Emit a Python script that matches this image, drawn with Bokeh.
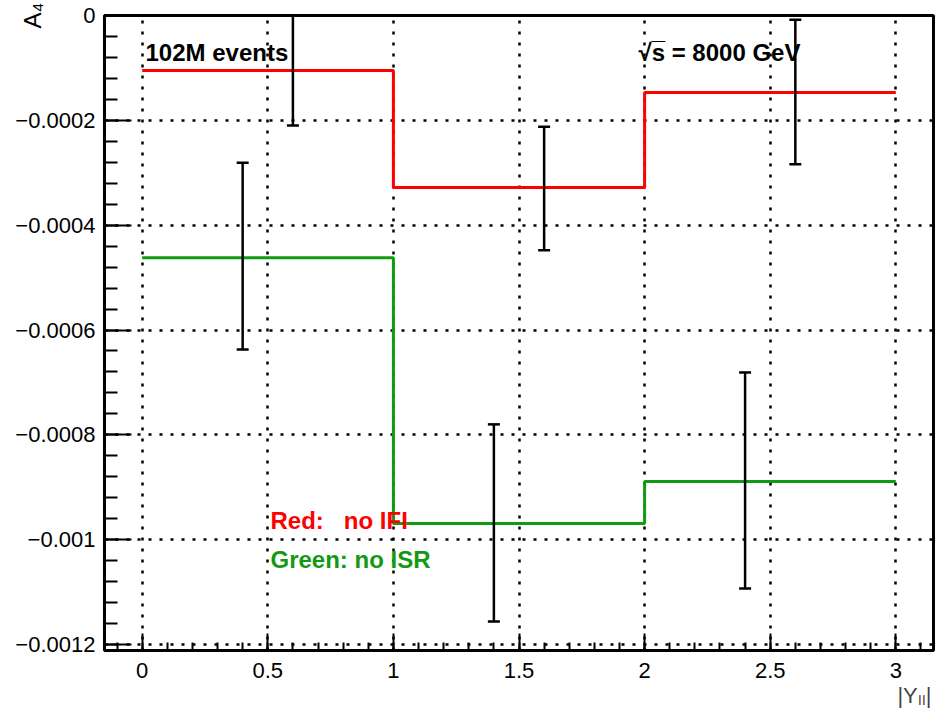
import numpy as np
from bokeh.plotting import figure
from bokeh.models import Range1d, FixedTicker, Label, Whisker, TeeHead, ColumnDataSource, LinearAxis, Title
from bokeh.embed import file_html
from bokeh.resources import INLINE

# ---- data ----
bin_edges = [0, 1, 2, 3]
red_values = [-0.000105, -0.000328, -0.000147]      # "no IFI"
green_values = [-0.000462, -0.000969, -0.000889]    # "no ISR"
err_x = [0.6, 0.4, 1.6, 1.4, 2.6, 2.4]
err_center = [-0.000105, -0.000459, -0.000330, -0.000968, -0.000146, -0.000887]
err_half = [0.000105, 0.000178, 0.000118, 0.000188, 0.000138, 0.000206]
x_ticks = [0, 0.5, 1, 1.5, 2, 2.5, 3]
x_tick_labels = ["0", "0.5", "1", "1.5", "2", "2.5", "3"]
y_ticks = [0, -0.0002, -0.0004, -0.0006, -0.0008, -0.001, -0.0012]
y_tick_labels = ["0", "\u22120.0002", "\u22120.0004", "\u22120.0006", "\u22120.0008", "\u22120.001", "\u22120.0012"]
x_minor = [round(v, 2) for v in np.arange(-0.1, 3.15, 0.1)]
y_minor = [round(v, 6) for v in np.arange(0, -0.00122, -0.00004)]
x_title = "|Y\u2097\u2097|"
y_title = "A\u2084"

RED = "#ff0000"
GREEN = "#139a13"
FONT = "Liberation Sans"

p = figure(width=938, height=715, x_range=Range1d(-0.15, 3.15), y_range=Range1d(-0.0012114, 0),
           output_backend="svg", toolbar_location=None,
           min_border_left=104, min_border_right=5, min_border_top=15, min_border_bottom=65)
p.background_fill_color = "white"
p.border_fill_color = "white"
p.outline_line_color = "black"
p.outline_line_width = 3
p.outline_line_alpha = 1

p.xaxis.ticker = FixedTicker(ticks=x_ticks, minor_ticks=x_minor)
p.yaxis.ticker = FixedTicker(ticks=y_ticks, minor_ticks=y_minor)
p.xaxis.major_label_overrides = {t: l for t, l in zip(x_ticks, x_tick_labels)}
p.yaxis.major_label_overrides = {t: l for t, l in zip(y_ticks, y_tick_labels)}
for ax in (p.xaxis, p.yaxis):
    ax.axis_line_width = 3
    ax.axis_line_color = "black"
    ax.major_tick_out = 0
    ax.minor_tick_out = 0
    ax.major_tick_line_width = 2
    ax.minor_tick_line_width = 2
    ax.major_tick_line_color = "black"
    ax.minor_tick_line_color = "black"
    ax.major_label_text_font = FONT
    ax.major_label_text_font_size = "22px"
    ax.major_label_text_color = "black"
    ax.axis_label_text_font = FONT
    ax.axis_label_text_font_style = "normal"
    ax.axis_label_text_font_size = "24px"
    ax.axis_label_text_color = "black"
p.xaxis.major_tick_in = 17
p.xaxis.minor_tick_in = 8
p.yaxis.major_tick_in = 27
p.yaxis.minor_tick_in = 13
p.xaxis.major_label_standoff = 12
p.yaxis.major_label_standoff = 9

# y title at the top end of the axis
if "axis_label_align" in LinearAxis.properties():
    p.yaxis.axis_label = y_title
    for v in ("end", "right"):
        try:
            p.yaxis.axis_label_align = v
            break
        except Exception:
            pass
    p.yaxis.axis_label_standoff = -34
else:
    p.add_layout(Title(text=y_title, align="right", text_font=FONT, text_font_style="normal",
                       text_font_size="22px", standoff=0), "left")

# x title at the right end, below the axis
p.add_layout(Title(text=x_title, align="right", text_font=FONT, text_font_style="normal",
                   text_font_size="22px", standoff=0, offset=2), "below")

p.grid.grid_line_color = "black"
p.grid.grid_line_dash = "3 8"
p.grid.grid_line_width = 2.5
p.grid.grid_line_alpha = 1

# step histograms
p.step(x=bin_edges, y=red_values + [red_values[-1]], mode="after", line_color=RED, line_width=3)
p.step(x=bin_edges, y=green_values + [green_values[-1]], mode="after", line_color=GREEN, line_width=3)

# error bars
src = ColumnDataSource(dict(
    x=err_x,
    lower=[c - e for c, e in zip(err_center, err_half)],
    upper=[c + e for c, e in zip(err_center, err_half)],
))
w = Whisker(base="x", lower="lower", upper="upper", source=src, line_color="black", line_width=2.5,
            upper_head=TeeHead(size=12, line_width=2.5, line_color="black"),
            lower_head=TeeHead(size=12, line_width=2.5, line_color="black"),
            level="annotation")
p.add_layout(w)

def lab(text, x, y, size, color="black", style="normal"):
    p.add_layout(Label(text=text, x=x, y=y, x_units="screen", y_units="screen",
                       text_font=FONT, text_font_size=size, text_color=color,
                       text_font_style=style, text_align="left",
                       text_baseline="alphabetic"))

lab("102M events", 41, 598, "24px", style="bold")
lab("\u221as\u0305 = 8000 GeV", 534, 598, "24px", style="bold")
lab("Red:\u00a0\u00a0\u00a0no IFI", 166, 130, "24px", color=RED, style="bold")
lab("Green: no ISR", 166, 91, "24px", color=GREEN, style="bold")

open("out.html", "w").write(file_html(p, INLINE))
